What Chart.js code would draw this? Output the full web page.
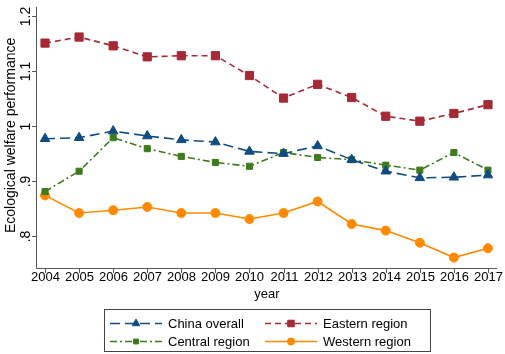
<!DOCTYPE html>
<html>
<head>
<meta charset="utf-8">
<script src="https://cdn.jsdelivr.net/npm/chart.js@4/dist/chart.umd.min.js"></script>
<style>
  html, body { margin: 0; padding: 0; background: #fff; }
  #wrap { width: 505px; height: 354px; position: relative; }
</style>
</head>
<body>
<div id="wrap"><canvas id="c" width="505" height="354"></canvas></div>
<script>
// data
const years = [2004, 2005, 2006, 2007, 2008, 2009, 2010, 2011, 2012, 2013, 2014, 2015, 2016, 2017];
const chinaOverall = [0.976, 0.978, 0.990, 0.981, 0.974, 0.970, 0.953, 0.949, 0.963, 0.938, 0.917, 0.905, 0.906, 0.910];
const easternRegion = [1.150, 1.161, 1.145, 1.125, 1.127, 1.127, 1.091, 1.050, 1.075, 1.051, 1.017, 1.008, 1.022, 1.038];
const centralRegion = [0.880, 0.917, 0.978, 0.958, 0.944, 0.933, 0.926, 0.951, 0.942, 0.938, 0.928, 0.919, 0.951, 0.919];
const westernRegion = [0.873, 0.841, 0.846, 0.852, 0.841, 0.841, 0.830, 0.841, 0.862, 0.821, 0.809, 0.787, 0.760, 0.777];
const yTicks = [0.8, 0.9, 1.0, 1.1, 1.2];
const yTickLabels = ['.8', '.9', '1', '1.1', '1.2'];

const FONT = '"Liberation Sans", Arial, sans-serif';
const axisColor = '#555';

function pts(vals) {
    return vals.map((v, i) => ({ x: years[i], y: v }));
}

// axes, ticks, titles drawn by hand (Stata look)
const stataAxes = {
    id: 'stataAxes',
    afterDraw(chart) {
        const ctx = chart.ctx;
        const a = chart.chartArea;
        const xs = chart.scales.x, ys = chart.scales.y;
        ctx.save();
        ctx.strokeStyle = axisColor;
        ctx.lineWidth = 1;
        ctx.beginPath();
        ctx.moveTo(a.left + 0.5, a.top);
        ctx.lineTo(a.left + 0.5, a.bottom + 0.5);
        ctx.lineTo(a.right, a.bottom + 0.5);
        ctx.stroke();

        ctx.fillStyle = '#000';
        ctx.font = '14px ' + FONT;
        // y ticks
        yTicks.forEach((v, i) => {
            const y = Math.round(ys.getPixelForValue(v)) + 0.5;
            ctx.beginPath();
            ctx.moveTo(a.left - 4, y);
            ctx.lineTo(a.left, y);
            ctx.stroke();
            ctx.save();
            ctx.translate(a.left - 10, y);
            ctx.rotate(-Math.PI / 2);
            ctx.textAlign = 'center';
            ctx.textBaseline = 'middle';
            ctx.fillText(yTickLabels[i], 0, 0);
            ctx.restore();
        });
        ctx.save();
        ctx.translate(11, (a.top + a.bottom) / 2 - 2);
        ctx.rotate(-Math.PI / 2);
        ctx.textAlign = 'center';
        ctx.textBaseline = 'middle';
        ctx.fillText('Ecological welfare performance', 0, 0);
        ctx.restore();

        // x ticks
        ctx.font = '13px ' + FONT;
        ctx.textAlign = 'center';
        ctx.textBaseline = 'top';
        years.forEach(yr => {
            const x = Math.round(xs.getPixelForValue(yr)) + 0.5;
            ctx.beginPath();
            ctx.moveTo(x, a.bottom);
            ctx.lineTo(x, a.bottom + 5);
            ctx.stroke();
            ctx.fillText(String(yr), x, a.bottom + 3);
        });
        ctx.fillText('year', (a.left + a.right) / 2 + 0.5, a.bottom + 20);
        ctx.restore();
    }
};

// legend box with line + marker samples
const stataLegend = {
    id: 'stataLegend',
    afterDraw(chart) {
        const ctx = chart.ctx;
        ctx.save();
        ctx.strokeStyle = '#444';
        ctx.lineWidth = 1;
        ctx.strokeRect(104.5, 309.5, 326, 42);
        const slots = [
            { x: 110, y: 323 }, { x: 265, y: 323 },
            { x: 110, y: 341 }, { x: 265, y: 341 }
        ];
        ctx.font = '13px ' + FONT;
        chart.data.datasets.forEach((ds, k) => {
            const s = slots[k];
            ctx.save();
            ctx.strokeStyle = ds.borderColor;
            ctx.fillStyle = ds.borderColor;
            ctx.lineWidth = ds.borderWidth;
            ctx.setLineDash(ds.borderDash || []);
            ctx.beginPath();
            ctx.moveTo(s.x, s.y + 0.5);
            ctx.lineTo(s.x + 52, s.y + 0.5);
            ctx.stroke();
            ctx.setLineDash([]);
            ctx.lineWidth = 1;
            Chart.helpers.drawPoint(ctx, {
                pointStyle: ds.pointStyle,
                rotation: 0,
                radius: ds.pointRadius * 0.8,
                borderWidth: 1
            }, s.x + 26, s.y + 0.5);
            ctx.restore();
            ctx.fillStyle = '#000';
            ctx.textAlign = 'left';
            ctx.textBaseline = 'middle';
            ctx.fillText(ds.label, s.x + 58, s.y + 1);
        });
        ctx.restore();
    }
};

function ds(label, vals, color, dash, style, radius) {
    return {
        label: label,
        data: pts(vals),
        borderColor: color,
        backgroundColor: color,
        pointBackgroundColor: color,
        pointBorderColor: color,
        borderWidth: 1.6,
        borderDash: dash,
        pointStyle: style,
        pointRadius: radius,
        pointBorderWidth: 1,
        tension: 0,
        clip: false
    };
}

new Chart(document.getElementById('c'), {
    type: 'line',
    data: {
        datasets: [
            ds('China overall', chinaOverall, '#0f4c81', [10, 5], 'triangle', 5.5),
            ds('Eastern region', easternRegion, '#a52a36', [6, 4], 'rect', 5.8),
            ds('Central region', centralRegion, '#3f7a1f', [7, 3, 2, 3], 'rect', 4.3),
            ds('Western region', westernRegion, '#ff8a00', [], 'circle', 4.5)
        ]
    },
    options: {
        responsive: false,
        animation: false,
        layout: { padding: { left: 36, right: 8, top: 1, bottom: 86 } },
        plugins: { legend: { display: false }, tooltip: { enabled: false } },
        scales: {
            x: { type: 'linear', display: false, min: 2003.735, max: 2017.265 },
            y: { type: 'linear', display: false, min: 0.741, max: 1.216 }
        }
    },
    plugins: [stataAxes, stataLegend]
});
</script>
</body>
</html>
